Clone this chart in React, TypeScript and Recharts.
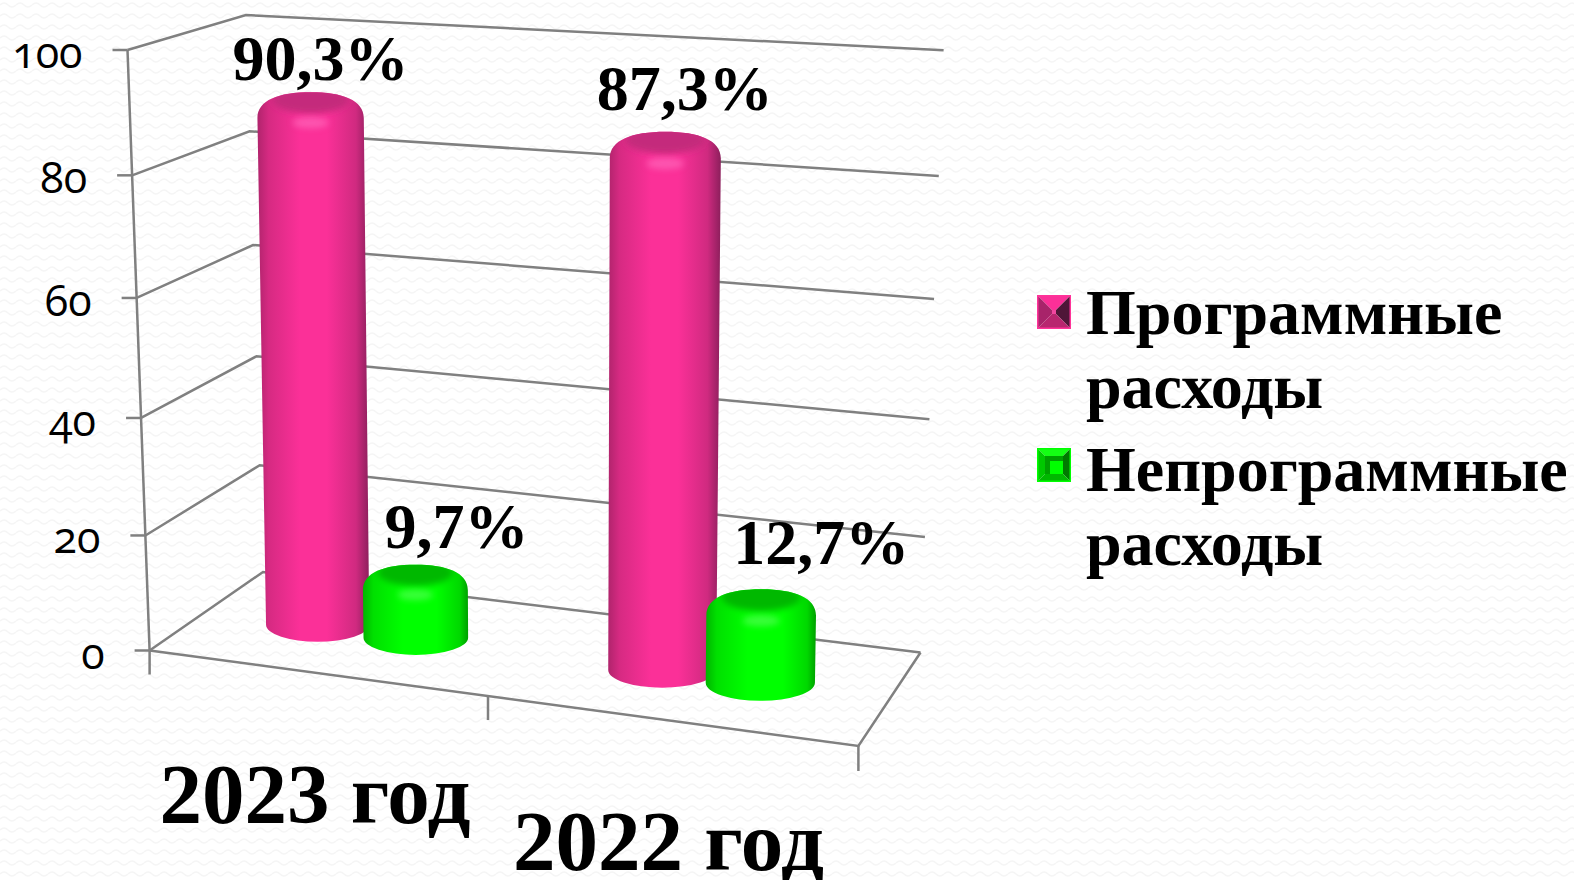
import { useId } from 'react';
import {
  Bar,
  BarChart,
  CartesianGrid,
  LabelList,
  Legend,
  XAxis,
  YAxis,
} from 'recharts';

const categories = ['2023 год', '2022 год'];
const programValues = [90.3, 87.3];
const nonProgramValues = [9.7, 12.7];
const yTicks = [0, 20, 40, 60, 80, 100];
const seriesNames = ['Программные расходы', 'Непрограммные расходы'];

const chartData = categories.map((name, i) => ({
  name,
  program: programValues[i],
  nonProgram: nonProgramValues[i],
}));

const WIDTH = 1574;
const HEIGHT = 880;
const SERIF = '"Liberation Serif", serif';
const GRID = '#808080';

// flat plot rect that recharts lays out, warped afterwards to look like the 3D view
const PLOT = { left: 194, right: 882, top: 40, bottom: 610 };

// bar plane corners on screen
const BAR_QUAD = {
  bl: [194, 608.6],
  br: [883, 698.8],
  tl: [182, 47],
  tr: [894, 85],
};

// wall edges on screen: [value 0, value 100]
const FRONT_LEFT = [[149.6, 650.5], [127.5, 50]];
const BACK_LEFT = [[263, 572], [246, 15]];
const BACK_RIGHT = [[920.5, 652.5], [943.6, 50.2]];
const FLOOR_FRONT_RIGHT = [858.4, 746];
const FLOOR_TICK = [488, 695];

const warp = (t: number) => t / (1 + 0.055 * (1 - t));
const mix = (a: number, b: number, t: number) => a + (b - a) * t;

const project = (px: number, py: number) => {
  const u = (px - PLOT.left) / (PLOT.right - PLOT.left);
  const t = warp((PLOT.bottom - py) / (PLOT.bottom - PLOT.top));
  const { bl, br, tl, tr } = BAR_QUAD;
  const bx = mix(bl[0], br[0], u);
  const by = mix(bl[1], br[1], u);
  const tx = mix(tl[0], tr[0], u);
  const ty = mix(tl[1], tr[1], u);
  return { x: mix(bx, tx, t), y: mix(by, ty, t) };
};

const edgePoint = (edge: number[][], t: number) => {
  const w = warp(t);
  return {
    x: mix(edge[0][0], edge[1][0], w),
    y: mix(edge[0][1], edge[1][1], w),
  };
};

const Cylinder = ({ x, y, width, height, gradient, cap, glow }: any) => {
  const id = useId();
  const tl = project(x, y);
  const tr = project(x + width, y);
  const bl = project(x, y + height);
  const br = project(x + width, y + height);
  const tc = project(x + width / 2, y);
  const bc = project(x + width / 2, y + height);
  // nearer bars read a little wider
  const u = (x + width / 2 - PLOT.left) / (PLOT.right - PLOT.left);
  const grow = 0.985 + 0.09 * u;
  const rx = ((tr.x - tl.x) / 2) * grow;
  const ry = rx * 0.37;
  const bottomRx = ((br.x - bl.x) / 2) * grow;
  const bottomRy = bottomRx * 0.33;
  const d = [
    `M${tc.x - rx},${tc.y + 6}`,
    `C${tc.x - rx},${tc.y - ry * 0.6} ${tc.x - rx * 0.6},${tc.y - ry} ${tc.x},${tc.y - ry}`,
    `C${tc.x + rx * 0.6},${tc.y - ry} ${tc.x + rx},${tc.y - ry * 0.6} ${tc.x + rx},${tc.y + 6}`,
    `L${bc.x + bottomRx},${bc.y}`,
    `A${bottomRx},${bottomRy} 0 0 1 ${bc.x - bottomRx},${bc.y}`,
    'Z',
  ].join(' ');
  return (
    <g>
      <clipPath id={id}>
        <path d={d} />
      </clipPath>
      <path d={d} fill={`url(#${gradient})`} />
      <g clipPath={`url(#${id})`}>
        <ellipse
          cx={tc.x}
          cy={tc.y - ry * 0.6}
          rx={rx * 0.72}
          ry={ry * 0.68}
          fill={cap}
          filter='url(#soft)'
        />
        <ellipse
          cx={tc.x}
          cy={tc.y + ry * 0.55}
          rx={rx * 0.34}
          ry={ry * 0.28}
          fill={glow}
          opacity={0.6}
          filter='url(#soft)'
        />
      </g>
    </g>
  );
};

const labelOffsets: Record<string, number[][]> = {
  program: [[10, -32], [19.5, -42]],
  nonProgram: [[41, -36], [60, -45]],
};

const makeValueLabel = (key: string) => (props: any) => {
  const { x, y, width, value, index } = props;
  const top = project(x + width / 2, y);
  const [dx, dy] = labelOffsets[key][index];
  return (
    <text
      x={top.x + dx}
      y={top.y + dy}
      textAnchor='middle'
      fontFamily={SERIF}
      fontWeight={700}
      fontSize={64}
      fill='#000'
    >
      {`${String(value).replace('.', ',')}%`}
    </text>
  );
};

const categoryOffsets = [[-51, 213], [-41.5, 260]];

const CategoryTick = ({ x, payload, index }: any) => (
  <text
    x={x + categoryOffsets[index][0]}
    y={PLOT.bottom + categoryOffsets[index][1]}
    textAnchor='middle'
    fontFamily={SERIF}
    fontWeight={700}
    fontSize={85}
    fill='#000'
  >
    {payload.value}
  </text>
);

const ValueTick = ({ payload }: any) => {
  const p = edgePoint(FRONT_LEFT, payload.value / 100);
  return (
    <g>
      <line x1={p.x - 15} y1={p.y} x2={p.x} y2={p.y} stroke={GRID} strokeWidth={2.5} />
      <text
        x={p.x - 45}
        y={p.y + 18}
        textAnchor='end'
        fontFamily='"Open Sans", sans-serif'
        fontSize={43}
        fill='#000'
        style={{ fontFeatureSettings: '"onum"' }}
      >
        {payload.value}
      </text>
    </g>
  );
};

const WallLine = ({ y1 }: any) => {
  const t = (PLOT.bottom - y1) / (PLOT.bottom - PLOT.top);
  const a = edgePoint(FRONT_LEFT, t);
  const b = edgePoint(BACK_LEFT, t);
  const c = edgePoint(BACK_RIGHT, t);
  return (
    <polyline
      points={`${a.x},${a.y} ${b.x},${b.y} ${c.x},${c.y}`}
      fill='none'
      stroke={GRID}
      strokeWidth={2.5}
    />
  );
};

const FrameLines = () => {
  const [x0, y0] = FRONT_LEFT[0];
  const [x1, y1] = FRONT_LEFT[1];
  const [fx, fy] = FLOOR_FRONT_RIGHT;
  const [bx, by] = BACK_RIGHT[0];
  const [mx, my] = FLOOR_TICK;
  return (
    <g stroke={GRID} strokeWidth={2.5} fill='none'>
      <line x1={x1} y1={y1} x2={x0} y2={y0} />
      <polyline points={`${x0},${y0} ${fx},${fy} ${bx},${by}`} />
      <line x1={x0} y1={y0} x2={x0} y2={y0 + 24} />
      <line x1={mx} y1={my} x2={mx} y2={my + 25} />
      <line x1={fx} y1={fy} x2={fx} y2={fy + 25} />
    </g>
  );
};

const markerShades: Record<string, string[]> = {
  program: ['#fb3098', '#a8246a', '#4f1638', '#b8266f', '#f0479f', '#ff3399'],
  nonProgram: ['#14ff14', '#00c800', '#007a00', '#00b800', '#00a000', '#00ff00'],
};

const BevelMarker = ({ kind }: { kind: string }) => {
  const [top, left, right, bottom, core, rim] = markerShades[kind];
  const s = 34;
  const a = kind === 'program' ? 15 : 8;
  const b = s - a;
  return (
    <svg width={s} height={s} style={{ display: 'block' }}>
      <polygon points={`0,0 ${s},0 ${b},${a} ${a},${a}`} fill={top} />
      <polygon points={`0,0 ${a},${a} ${a},${b} 0,${s}`} fill={left} />
      <polygon points={`${s},0 ${s},${s} ${b},${b} ${b},${a}`} fill={right} />
      <polygon points={`0,${s} ${a},${b} ${b},${b} ${s},${s}`} fill={bottom} />
      <rect x={a} y={a} width={b - a} height={b - a} fill={core} />
      {kind === 'nonProgram' && (
        <rect x={a + 5} y={a + 5} width={b - a - 5} height={b - a - 5} fill={rim} />
      )}
      <rect x={0.75} y={0.75} width={s - 1.5} height={s - 1.5} fill='none' stroke={rim} strokeWidth={1.5} />
    </svg>
  );
};

const legendKinds = ['program', 'nonProgram'];
const legendMarkerTops = [19, 15];

const LegendContent = () => (
  <div style={{ fontFamily: SERIF, fontWeight: 700, fontSize: 64, lineHeight: '74px', color: '#000' }}>
    {seriesNames.map((name, i) => (
      <div key={name} style={{ display: 'flex', alignItems: 'flex-start', marginBottom: i === 0 ? 9 : 0 }}>
        <div style={{ width: 49, marginTop: legendMarkerTops[i], flex: 'none' }}>
          <BevelMarker kind={legendKinds[i]} />
        </div>
        <div style={{ width: 484 }}>{name}</div>
      </div>
    ))}
  </div>
);

const wave = encodeURIComponent(
  "<svg xmlns='http://www.w3.org/2000/svg' width='16' height='11'><path d='M0 5 Q4 1 8 5 T16 5' fill='none' stroke='#f5f5f5' stroke-width='1.5'/></svg>",
);

export default function App() {
  return (
    <div
      style={{
        position: 'absolute',
        left: 0,
        top: 0,
        width: WIDTH,
        height: HEIGHT,
        overflow: 'hidden',
        backgroundColor: '#fff',
        backgroundImage: `url("data:image/svg+xml,${wave}")`,
      }}
    >
      <BarChart
        width={WIDTH}
        height={HEIGHT}
        data={chartData}
        margin={{
          left: PLOT.left - 1,
          right: WIDTH - PLOT.right,
          top: PLOT.top,
          bottom: HEIGHT - PLOT.bottom - 1,
        }}
        barSize={103}
        barGap={-5}
      >
        <defs>
          <linearGradient id='pinkBody' x1='0' y1='0' x2='1' y2='0'>
            <stop offset='0%' stopColor='#b0246c' />
            <stop offset='10%' stopColor='#d62a82' />
            <stop offset='38%' stopColor='#fb3098' />
            <stop offset='62%' stopColor='#fb3098' />
            <stop offset='88%' stopColor='#d02a80' />
            <stop offset='100%' stopColor='#8c1f5c' />
          </linearGradient>
          <linearGradient id='greenBody' x1='0' y1='0' x2='1' y2='0'>
            <stop offset='0%' stopColor='#00b400' />
            <stop offset='10%' stopColor='#00e000' />
            <stop offset='38%' stopColor='#00ff00' />
            <stop offset='70%' stopColor='#00ff00' />
            <stop offset='92%' stopColor='#00d800' />
            <stop offset='100%' stopColor='#00a000' />
          </linearGradient>
          <filter id='soft' x='-30%' y='-60%' width='160%' height='220%'>
            <feGaussianBlur stdDeviation='3' />
          </filter>
        </defs>
        <CartesianGrid
          vertical={false}
          horizontal={(props: any) => <WallLine key={props.y1} {...props} />}
        />
        <FrameLines />
        <XAxis
          dataKey='name'
          height={1}
          axisLine={false}
          tickLine={false}
          interval={0}
          tick={<CategoryTick />}
        />
        <YAxis
          width={1}
          domain={[0, 100]}
          ticks={yTicks}
          axisLine={false}
          tickLine={false}
          tick={<ValueTick />}
        />
        <Legend
          layout='horizontal'
          verticalAlign='middle'
          content={<LegendContent />}
          wrapperStyle={{ position: 'absolute', left: 1037, top: 276, width: 540, bottom: 'auto' }}
        />
        <Bar
          dataKey='program'
          name={seriesNames[0]}
          isAnimationActive={false}
          shape={(p: any) => (
            <Cylinder {...p} gradient='pinkBody' cap='#c42a7b' glow='#ff70c0' />
          )}
        >
          <LabelList dataKey='program' content={makeValueLabel('program')} />
        </Bar>
        <Bar
          dataKey='nonProgram'
          name={seriesNames[1]}
          isAnimationActive={false}
          shape={(p: any) => (
            <Cylinder {...p} gradient='greenBody' cap='#00b800' glow='#60ff60' />
          )}
        >
          <LabelList dataKey='nonProgram' content={makeValueLabel('nonProgram')} />
        </Bar>
      </BarChart>
    </div>
  );
}
